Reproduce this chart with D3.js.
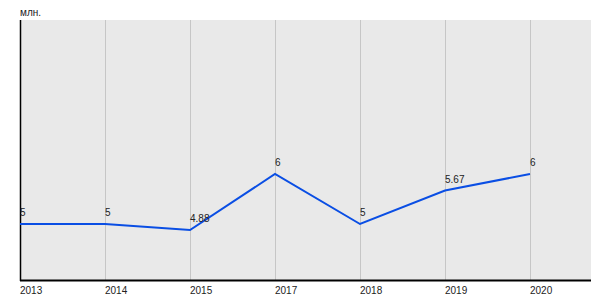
<!DOCTYPE html>
<html lang="ru">
<head>
<meta charset="UTF-8">
<script src="https://d3js.org/d3.v7.min.js"></script>
<style>
  body { margin: 0; background: #fff; font-family: Arial, "Liberation Sans", sans-serif; }
  .grid line { stroke: #c6c6c6; stroke-width: 1; }
  .lbl { font-size: 10px; fill: #222; }
</style>
</head>
<body>
<script>
const years = ["2013", "2014", "2015", "2017", "2018", "2019", "2020"];
const values = [5, 5, 4.88, 6, 5, 5.67, 6];
const valueLabels = ["5", "5", "4.88", "6", "5", "5.67", "6"];
const unit = "млн.";

const width = 600, height = 300;
const plotLeft = 20, plotRight = 591, plotTop = 20, plotBottom = 280;

const svg = d3.select("body").append("svg").attr("width", width).attr("height", height);

// 7 points with 85px step, plot continues past the last one
const x = d3.scalePoint().domain(years).range([plotLeft, plotLeft + 85 * (years.length - 1)]);
const y = d3.scaleLinear().domain([3.88, 9.08]).range([plotBottom, plotTop]);

svg.append("rect").attr("x", plotLeft).attr("y", plotTop)
  .attr("width", plotRight - plotLeft).attr("height", plotBottom - plotTop).attr("fill", "#e9e9e9");

svg.append("g").attr("class", "grid").selectAll("line").data(years).join("line")
  .attr("x1", d => x(d) + 0.5).attr("x2", d => x(d) + 0.5)
  .attr("y1", plotTop).attr("y2", plotBottom);

// axes
svg.append("line").attr("x1", plotLeft + 0.5).attr("x2", plotLeft + 0.5).attr("y1", plotTop).attr("y2", plotBottom + 1)
  .attr("stroke", "#000").attr("stroke-width", 1.5);
svg.append("line").attr("x1", plotLeft).attr("x2", plotRight).attr("y1", plotBottom + 0.5).attr("y2", plotBottom + 0.5)
  .attr("stroke", "#000").attr("stroke-width", 2);

svg.append("g").selectAll("text").data(years).join("text")
  .attr("class", "lbl").attr("x", d => x(d)).attr("y", plotBottom + 14).text(d => d);

svg.append("text").attr("class", "lbl").attr("x", plotLeft).attr("y", 16).text(unit);

const line = d3.line().x((d, i) => x(years[i])).y(d => y(d));
svg.append("path").datum(values).attr("d", line)
  .attr("fill", "none").attr("stroke", "#0a4ee4").attr("stroke-width", 2);

svg.append("g").selectAll("text").data(values).join("text")
  .attr("class", "lbl").attr("x", (d, i) => x(years[i])).attr("y", d => y(d) - 8)
  .text((d, i) => valueLabels[i]);
</script>
</body>
</html>
